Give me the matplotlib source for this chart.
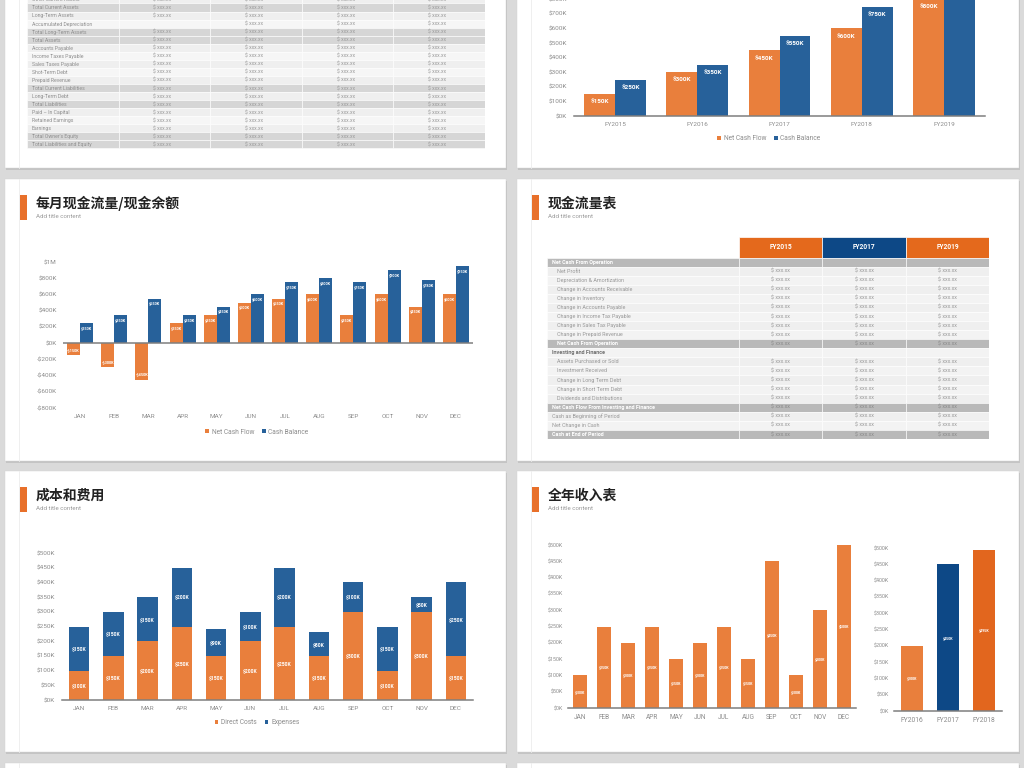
import matplotlib
matplotlib.use('Agg')
import matplotlib.pyplot as plt
import numpy as np
from matplotlib.patches import Rectangle
from matplotlib.ticker import FuncFormatter

plt.rcParams['font.family'] = ['Roboto', 'Noto Sans CJK SC', 'DejaVu Sans']

# ---------------- data ----------------
fy_years = ['FY2015', 'FY2016', 'FY2017', 'FY2018', 'FY2019']
fy_net_cash_flow = [150, 300, 450, 600, 800]
fy_cash_balance = [250, 350, 550, 750, 950]

months = ['JAN', 'FEB', 'MAR', 'APR', 'MAY', 'JUN', 'JUL', 'AUG', 'SEP', 'OCT', 'NOV', 'DEC']
m_net_cash_flow = [-150, -300, -450, 250, 350, 500, 550, 600, 350, 600, 450, 600]
m_cash_balance = [250, 350, 550, 350, 450, 600, 750, 800, 750, 900, 780, 950]

direct_costs = [100, 150, 200, 250, 150, 200, 250, 150, 300, 100, 300, 150]
expenses = [150, 150, 150, 200, 90, 100, 200, 80, 100, 150, 50, 250]

monthly_income = [100, 250, 200, 250, 150, 200, 250, 150, 450, 100, 300, 500]
income_years = ['FY2016', 'FY2017', 'FY2018']
annual_income = [200, 450, 495]

bs_labels = ['Other Current Assets', 'Total Current Assets', 'Long-Term Assets',
             'Accumulated Depreciation', 'Total Long-Term Assets', 'Total Assets',
             'Accounts Payable', 'Income Taxes Payable', 'Sales Taxes Payable',
             'Shot-Term Debt', 'Prepaid Revenue', 'Total Current Liabilities',
             'Long-Term Debt', 'Total Liabilities', 'Paid \u2013 In Capital',
             'Retained Earnings', 'Earnings', "Total Owner's Equity",
             'Total Liabilities and Equity']
bs_total = [False, True, False, False, True, True, False, False, False, False, False,
            True, False, True, False, False, False, True, True]
bs_value = '$ xxx.xx'

cf_years = ['FY2015', 'FY2017', 'FY2019']
cf_labels = ['Net Cash From Operation', 'Net Profit', 'Depreciation & Amortization',
             'Change in Accounts Receivable', 'Change in Inventory',
             'Change in Accounts Payable', 'Change in Income Tax Payable',
             'Change in Sales Tax Payable', 'Change in Prepaid Revenue',
             'Net Cash From Operation', 'Investing and Finance',
             'Assets Purchased or Sold', 'Investment Received',
             'Change in Long Term Debt', 'Change in Short Term Debt',
             'Dividends and Distributions', 'Net Cash Flow From Investing and Finance',
             'Cash as Beginning of Period', 'Net Change in Cash', 'Cash at End of Period']
cf_kinds = ['section', 'item', 'item', 'item', 'item', 'item', 'item', 'item', 'item',
            'subtotal', 'heading', 'item', 'item', 'item', 'item', 'item', 'total',
            'plain', 'plain', 'total']

slide_titles = ['每月现金流量/现金余额', '现金流量表', '成本和费用', '全年收入表']
subtitle = 'Add title content'

# ---------------- style ----------------
ORANGE = '#E97F3C'
BLUE = '#27619A'
HDR_ORANGE = '#E4691C'
NAVY = '#0D4886'
DARK_ORANGE = '#E2661E'
GRAY_TXT = '#8c8c8c'
W, H = 1024, 768

fig = plt.figure(figsize=(W / 100, H / 100), dpi=100)
fig.patch.set_facecolor('#dadada')

bg = fig.add_axes([0, 0, 1, 1], zorder=-10)
bg.set_xlim(0, W)
bg.set_ylim(H, 0)
bg.axis('off')

panels = [(5, -10, 506, 168), (517, -10, 1019, 168),
          (5, 179, 506, 461), (517, 179, 1019, 461),
          (5, 471, 506, 752), (517, 471, 1019, 752),
          (5, 763, 506, 800), (517, 763, 1019, 800)]
for x0, y0, x1, y1 in panels:
    bg.add_patch(Rectangle((x0 + 0.5, y0 + 1.5), x1 - x0, y1 - y0, facecolor='#c4c4c4',
                           edgecolor='none'))
    bg.add_patch(Rectangle((x0, y0), x1 - x0, y1 - y0, facecolor='white',
                           edgecolor='#d2d2d2', lw=0.3))
    bg.plot([x0 + 14, x0 + 14], [y0, y1], color='#ececec', lw=0.6)

title_panels = [panels[2], panels[3], panels[4], panels[5]]
for t, (x0, y0, x1, y1) in zip(slide_titles, title_panels):
    bg.add_patch(Rectangle((x0 + 15, y0 + 16), 7, 25, facecolor='#E8702A', edgecolor='none'))
    bg.text(x0 + 31, y0 + 24.5, t, fontsize=10, fontweight='bold', color='#222222',
            family=['Noto Sans CJK SC', 'DejaVu Sans'], va='center', ha='left')
    bg.text(x0 + 31, y0 + 37.5, subtitle, fontsize=4.4, color='#9a9a9a',
            va='center', ha='left')


def add_axes_px(x0, y0, x1, y1):
    return fig.add_axes([x0 / W, 1 - y1 / H, (x1 - x0) / W, (y1 - y0) / H])


def money(v, pos=None):
    if v >= 1000:
        return f'${v / 1000:g}M'
    if v < 0:
        return f'-${-v:g}K'
    return f'${v:g}K'


def style(ax, ylim, ystep, xlim, ylab=4.5, xlab=4.5, ypad=5, xpad=4, zero_line=False):
    ax.set_facecolor('none')
    ax.set_xlim(*xlim)
    ax.set_ylim(*ylim)
    ax.set_yticks(np.arange(ylim[0], ylim[1] + 1, ystep))
    ax.yaxis.set_major_formatter(FuncFormatter(money))
    for s in ['top', 'right', 'left']:
        ax.spines[s].set_visible(False)
    if zero_line:
        ax.spines['bottom'].set_visible(False)
        ax.axhline(0, color='#7f7f7f', lw=1.1, zorder=3)
    else:
        ax.spines['bottom'].set_color('#7f7f7f')
        ax.spines['bottom'].set_linewidth(1.1)
    ax.tick_params(axis='y', length=0, labelsize=ylab, labelcolor=GRAY_TXT, pad=ypad)
    ax.tick_params(axis='x', length=0, labelsize=xlab, labelcolor=GRAY_TXT, pad=xpad)


def legend(ax, cx, cy):
    ax.legend(loc='center', bbox_to_anchor=(cx / W, 1 - cy / H), bbox_transform=fig.transFigure,
              ncol=2, frameon=False, fontsize=4.8, labelcolor=GRAY_TXT, handlelength=0.55,
              handleheight=0.55, handletextpad=0.4, columnspacing=1.2, borderpad=0)


def bar_labels(ax, xs, vals, size, off):
    for xv, v in zip(xs, vals):
        ax.annotate(money(v), (xv, v), xytext=(0, -off if v > 0 else off),
                    textcoords='offset points', ha='center', va='center',
                    color='white', fontsize=size, fontweight='bold', zorder=5)


# ---------------- top-left: balance sheet table ----------------
ta = add_axes_px(27, -4.6, 485, 148.5)
ta.set_xlim(0, 5)
ta.set_ylim(len(bs_labels), 0)
ta.axis('off')
for r, (lab, tot) in enumerate(zip(bs_labels, bs_total)):
    fc = '#d6d6d6' if tot else ('#efefef' if r % 2 == 0 else '#f6f6f6')
    for c in range(5):
        ta.add_patch(Rectangle((c, r), 1, 1, facecolor=fc, edgecolor='white', lw=0.4))
    ta.text(0.055, r + 0.55, lab, fontsize=3.7, color='#8f8f8f', va='center', ha='left')
    for c in range(1, 5):
        if lab == 'Accumulated Depreciation' and c == 1:
            continue
        ta.text(c + 0.38, r + 0.55, bs_value, fontsize=3.7, color='#9a9a9a',
                va='center', ha='left')

# ---------------- top-right: annual cash flow ----------------
ax = add_axes_px(574, -30, 985, 116)
x = np.arange(len(fy_years))
bw = 0.375
ax.bar(x - bw / 2, fy_net_cash_flow, bw, color=ORANGE, label='Net Cash Flow')
ax.bar(x + bw / 2, fy_cash_balance, bw, color=BLUE, label='Cash Balance')
bar_labels(ax, x - bw / 2, fy_net_cash_flow, 4.6, 5.6)
bar_labels(ax, x + bw / 2, fy_cash_balance, 4.6, 5.6)
style(ax, (0, 1000), 100, (-0.5, 4.5), ylab=4.6, xlab=4.6, ypad=5, xpad=4)
ax.set_xticks(x)
ax.set_xticklabels(fy_years)
legend(ax, 769, 139)

# ---------------- middle-left: monthly cash flow ----------------
ax = add_axes_px(63, 262, 473, 408)
x = np.arange(len(months))
bw = 0.38
ax.bar(x - bw / 2, m_net_cash_flow, bw, color=ORANGE, label='Net Cash Flow')
ax.bar(x + bw / 2, m_cash_balance, bw, color=BLUE, label='Cash Balance')
bar_labels(ax, x - bw / 2, m_net_cash_flow, 2.8, 3.6)
bar_labels(ax, x + bw / 2, m_cash_balance, 2.8, 3.6)
style(ax, (-800, 1000), 200, (-0.5, 11.5), ylab=4.6, xlab=4.6, ypad=4.5, xpad=4,
      zero_line=True)
ax.set_xticks(x)
ax.set_xticklabels(months)
legend(ax, 257, 432)

# ---------------- middle-right: cash flow table ----------------
cw = [192, 83, 84, 83]
hdr_h = 20.5
row_h = 9.075
tb = add_axes_px(547, 237, 989, 237 + hdr_h + row_h * len(cf_labels))
tb.set_xlim(0, sum(cw))
tb.set_ylim(hdr_h + row_h * len(cf_labels), 0)
tb.axis('off')
xs = np.concatenate([[0], np.cumsum(cw)])
hdr_colors = [HDR_ORANGE, NAVY, HDR_ORANGE]
for i, (yr, hc) in enumerate(zip(cf_years, hdr_colors)):
    tb.add_patch(Rectangle((xs[i + 1], 0), cw[i + 1], hdr_h, facecolor=hc,
                           edgecolor='white', lw=0.5))
    tb.text(xs[i + 1] + cw[i + 1] / 2, hdr_h / 2, yr, color='white', fontsize=4.8,
            fontweight='bold', ha='center', va='center')
for r, (lab, kind) in enumerate(zip(cf_labels, cf_kinds)):
    y0 = hdr_h + r * row_h
    dark = kind in ('section', 'subtotal', 'total')
    fc = '#b9b9b9' if dark else ('#efefef' if r % 2 else '#f3f3f3')
    for c in range(4):
        tb.add_patch(Rectangle((xs[c], y0), cw[c], row_h, facecolor=fc,
                               edgecolor='white', lw=0.4))
    indent = 10 if kind in ('item', 'subtotal') else 5
    if dark:
        col, wt = 'white', 'bold'
    elif kind == 'heading':
        col, wt = '#707070', 'bold'
    else:
        col, wt = '#999999', 'normal'
    tb.text(indent, y0 + row_h / 2, lab, fontsize=3.9, color=col, fontweight=wt,
            ha='left', va='center')
    if kind not in ('section', 'heading'):
        for c in range(1, 4):
            tb.text(xs[c] + cw[c] / 2, y0 + row_h / 2, bs_value, fontsize=3.9,
                    color='#8a8a8a' if dark else '#9a9a9a', ha='center', va='center')

# ---------------- bottom-left: costs and expenses ----------------
ax = add_axes_px(62, 553, 473, 700)
x = np.arange(len(months))
bw = 0.6
ax.bar(x, direct_costs, bw, color=ORANGE, label='Direct Costs')
ax.bar(x, expenses, bw, bottom=direct_costs, color=BLUE, label='Expenses')
for xi, d, e in zip(x, direct_costs, expenses):
    ax.text(xi, d / 2, money(d), color='white', fontsize=3.6, fontweight='bold',
            ha='center', va='center')
    ax.text(xi, d + e / 2, money(e), color='white', fontsize=3.6, fontweight='bold',
            ha='center', va='center')
style(ax, (0, 500), 50, (-0.5, 11.5), ylab=4.6, xlab=4.6, ypad=5, xpad=4)
ax.set_xticks(x)
ax.set_xticklabels(months)
legend(ax, 257, 723)

# ---------------- bottom-right: income ----------------
ax = add_axes_px(568, 545, 856, 708)
x = np.arange(len(months))
ax.bar(x, monthly_income, 0.61, color=ORANGE)
for xi, v in zip(x, monthly_income):
    ax.text(xi, v / 2, money(v), color='white', fontsize=2.6, fontweight='bold',
            ha='center', va='center')
style(ax, (0, 500), 50, (-0.5, 11.5), ylab=3.9, xlab=4.7, ypad=3.6, xpad=4)
ax.set_xticks(x)
ax.set_xticklabels(months)

ax = add_axes_px(894, 548, 1002, 711)
x = np.arange(len(income_years))
ax.bar(x, annual_income, 0.6, color=[ORANGE, NAVY, DARK_ORANGE])
for xi, v in zip(x, annual_income):
    ax.text(xi, v / 2, money(v), color='white', fontsize=2.6, fontweight='bold',
            ha='center', va='center')
style(ax, (0, 500), 50, (-0.5, 2.5), ylab=3.9, xlab=4.9, ypad=3.6, xpad=4)
ax.set_xticks(x)
ax.set_xticklabels(income_years)

fig.savefig('out.png', dpi=100, facecolor=fig.get_facecolor())
